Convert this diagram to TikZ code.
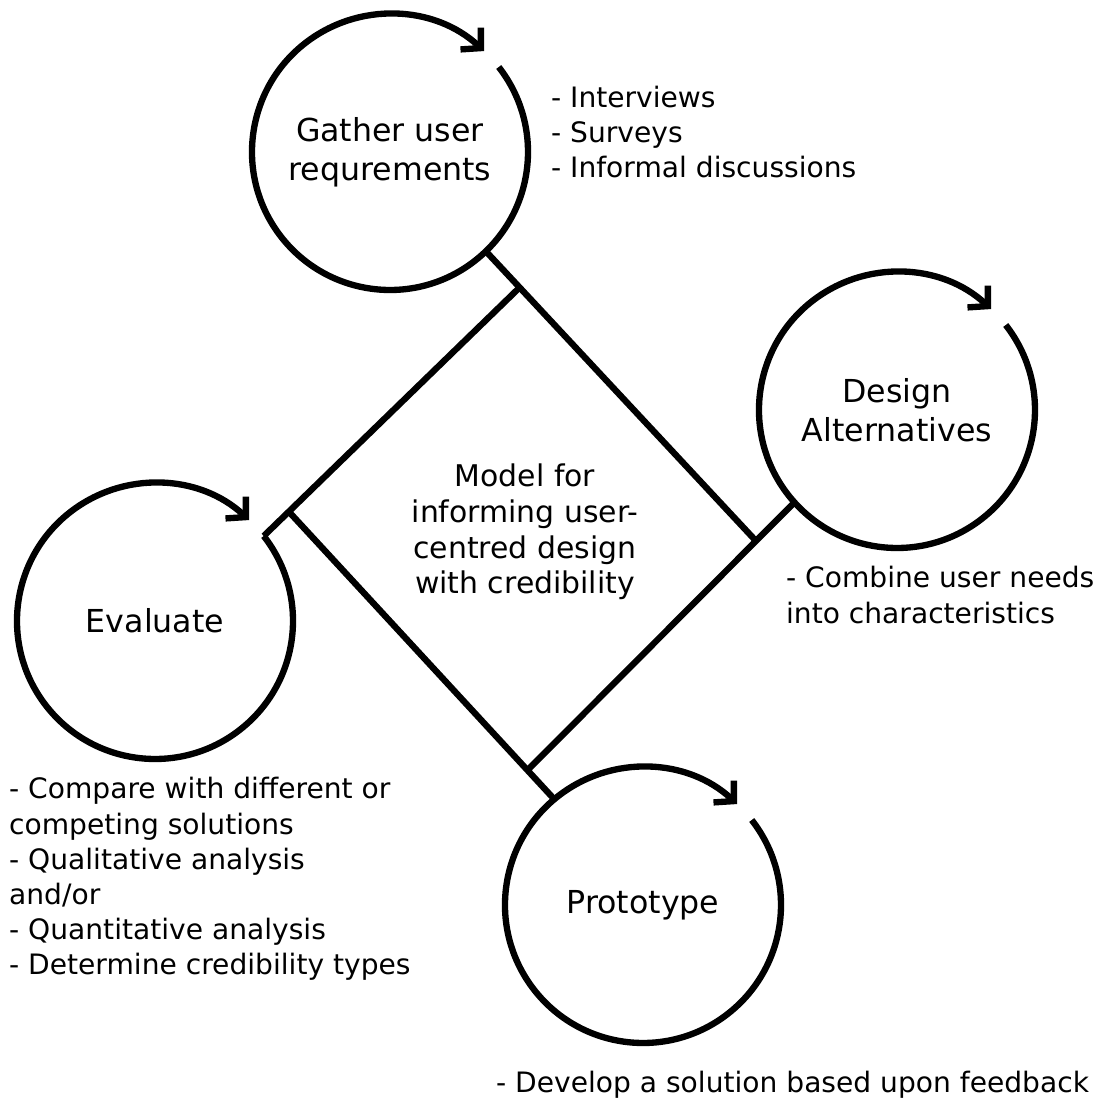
\documentclass[tikz,border=0pt]{standalone}
\usepackage{fontspec}
\setmainfont{DejaVu Sans}
\usetikzlibrary{arrows.meta,calc,positioning}

\begin{document}
\begin{tikzpicture}[>={Straight Barb[length=4pt,width=8.5pt]}, line width=1.8pt,
		stage/.style={circle,minimum size=2.76cm,inner sep=0pt,outer sep=0pt,align=center,font=\fontsize{9}{11}\selectfont},
		notes/.style={anchor=west,align=left,inner sep=0pt,font=\fontsize{8}{10}\selectfont}]
			\useasboundingbox (0,0) rectangle (11.07,11.00);
			% the four stages
			\node[stage] (gather) at (3.90,9.48) {Gather user\\requrements};
			\node[stage] (design) at (8.97,6.90) {Design\\Alternatives};
			\node[stage] (evaluate) at (1.55,4.79) {Evaluate};
			\node[stage] (prototype) at (6.43,1.95) {Prototype};
			\foreach \n in {gather,design,evaluate,prototype}
				\draw[->] (\n.38) arc[start angle=38,end angle=-313,radius=1.38cm];
			% centre diamond, each side runs on to the next circle
			\coordinate (bottom0) at (5.30,3.32);
			\coordinate (right) at ($(design.-138)!(7.54,5.61)!(bottom0)$);
			\coordinate (top) at ($(gather.-46)!(5.18,8.11)!(right)$);
			\coordinate (left) at ($(evaluate.38)!(2.95,5.82)!(top)$);
			\coordinate (bottom) at ($(left)!(bottom0)!(prototype.130)$);
			\draw (gather.-46) -- (right);
			\draw (design.-138) -- (bottom);
			\draw (left) -- (prototype.130);
			\draw (evaluate.38) -- (top);
			\node[align=center,font=\fontsize{8.5}{10.2}\selectfont] (model) at (5.25,5.68) {Model for\\informing user-\\centred design\\with credibility};
			% notes
			\node[notes] (gathernotes) at (5.48,9.68) {- Interviews\\- Surveys\\- Informal discussions};
			\node[notes] (designnotes) at (7.83,5.05) {- Combine user needs\\into characteristics};
			\node[notes] (evalnotes) at (0.06,2.21) {- Compare with different or\\competing solutions\\- Qualitative analysis\\and/or\\- Quantitative analysis\\- Determine credibility types};
			\node[notes] (protonotes) at (4.93,0.15) {- Develop a solution based upon feedback};
		\end{tikzpicture}
\end{document}
